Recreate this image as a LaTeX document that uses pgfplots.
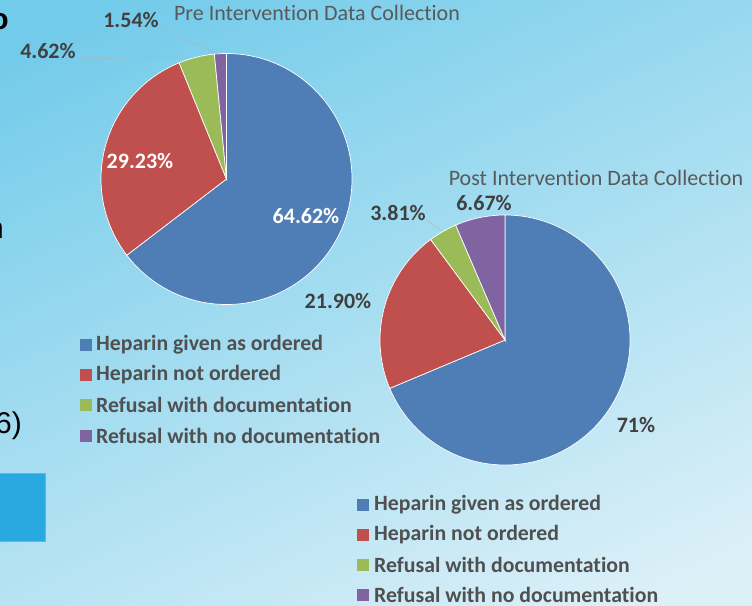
\documentclass[border=0pt]{standalone}
\usepackage{pgfplots}
\pgfplotsset{compat=1.18}
\usepackage{fontspec}
\setmainfont{Carlito}[Ligatures=NoCommon]
\newfontfamily\arialfont{Liberation Sans}
\definecolor{pblue}{HTML}{4F7DB5}
\definecolor{pred}{HTML}{C0504D}
\definecolor{pgreen}{HTML}{9BBB59}
\definecolor{ppurple}{HTML}{8064A2}
\definecolor{titlegray}{HTML}{595959}
\definecolor{labgray}{HTML}{404040}
\definecolor{legtext}{HTML}{505050}
\definecolor{bgtop}{HTML}{72CBEA}
\definecolor{bgbot}{HTML}{DCF0F8}
\definecolor{boxblue}{HTML}{2AA8E0}
\definecolor{boxedge}{HTML}{6CBF96}
\begin{document}
\begin{tikzpicture}
% ---- data: percentages ----
\def\preA{64.62}\def\preB{29.23}\def\preC{4.62}\def\preD{1.54}
\def\postA{71}\def\postB{21.90}\def\postC{3.81}\def\postD{6.67}
% ---- angles (clockwise from 12 o'clock, normalised by total) ----
\pgfmathsetmacro\preT{\preA+\preB+\preC+\preD}
\pgfmathsetmacro\preaA{90-\preA/\preT*360}
\pgfmathsetmacro\preaB{\preaA-\preB/\preT*360}
\pgfmathsetmacro\preaC{\preaB-\preC/\preT*360}
\pgfmathsetmacro\postT{\postA+\postB+\postC+\postD}
\pgfmathsetmacro\postaA{90-\postA/\postT*360}
\pgfmathsetmacro\postaB{\postaA-\postB/\postT*360}
\pgfmathsetmacro\postaC{\postaB-\postC/\postT*360}
\begin{axis}[
  at={(0,0)}, anchor=south west,
  width=752pt, height=605pt, scale only axis,
  xmin=0, xmax=752, ymin=0, ymax=605, y dir=reverse,
  hide axis, clip=true]
% background
\shade[top color=bgtop, bottom color=bgbot, shading angle=25]
  (axis cs:-60,-60) rectangle (axis cs:812,665);
% left-side slide fragments
\node[anchor=east, font=\arialfont\bfseries\fontsize{30}{30}\selectfont, text=black, inner sep=0pt] at (axis cs:9,22) {o};
\node[anchor=east, font=\arialfont\fontsize{30}{30}\selectfont, text=black, inner sep=0pt] at (axis cs:4,230) {n};
\node[anchor=east, font=\arialfont\fontsize{30}{30}\selectfont, text=black, inner sep=0pt] at (axis cs:22,426) {6)};
\fill[boxblue, draw=boxedge, line width=0.8pt] (axis cs:-5,473) rectangle (axis cs:45,541);
% ---- Pre pie ----
\fill[pblue, draw=white, line width=0.7pt] (axis cs:226.5,179) -- ++(90:125.5pt) arc[start angle=90, end angle=\preaA, radius=125.5pt] -- cycle;
\fill[pred, draw=white, line width=0.7pt] (axis cs:226.5,179) -- ++(\preaA:125.5pt) arc[start angle=\preaA, end angle=\preaB, radius=125.5pt] -- cycle;
\fill[pgreen, draw=white, line width=0.7pt] (axis cs:226.5,179) -- ++(\preaB:125.5pt) arc[start angle=\preaB, end angle=\preaC, radius=125.5pt] -- cycle;
\fill[ppurple, draw=white, line width=0.7pt] (axis cs:226.5,179) -- ++(\preaC:125.5pt) arc[start angle=\preaC, end angle=-270, radius=125.5pt] -- cycle;
\node[font=\fontsize{22}{22}\selectfont, text=titlegray] at (axis cs:317,13) {Pre Intervention Data Collection};
\draw[gray!60, line width=0.4pt] (axis cs:160,27) -- (axis cs:218,54);
\draw[gray!60, line width=0.4pt] (axis cs:77,59) -- (axis cs:181,57);
\node[font=\bfseries\fontsize{22}{22}\selectfont, text=labgray] at (axis cs:131,20) {1.54\%};
\node[font=\bfseries\fontsize{22}{22}\selectfont, text=labgray] at (axis cs:48,51) {4.62\%};
\node[font=\bfseries\fontsize{22}{22}\selectfont, text=white] at (axis cs:140,161) {29.23\%};
\node[font=\bfseries\fontsize{22}{22}\selectfont, text=white] at (axis cs:306,216) {64.62\%};
% legend 1
\fill[pblue]   (axis cs:80,339) rectangle (axis cs:92,351);
\fill[pred]    (axis cs:80,369) rectangle (axis cs:92,381);
\fill[pgreen]  (axis cs:80,399) rectangle (axis cs:92,411);
\fill[ppurple] (axis cs:80,430) rectangle (axis cs:92,442);
\node[anchor=west, inner sep=0pt, font=\bfseries\fontsize{21.8}{21.8}\selectfont, text=legtext] at (axis cs:96,345) {Heparin given as ordered};
\node[anchor=west, inner sep=0pt, font=\bfseries\fontsize{21.8}{21.8}\selectfont, text=legtext] at (axis cs:96,375) {Heparin not ordered};
\node[anchor=west, inner sep=0pt, font=\bfseries\fontsize{21.8}{21.8}\selectfont, text=legtext] at (axis cs:96,405) {Refusal with documentation};
\node[anchor=west, inner sep=0pt, font=\bfseries\fontsize{21.8}{21.8}\selectfont, text=legtext] at (axis cs:96,436) {Refusal with no documentation};
% ---- Post pie ----
\fill[pblue, draw=white, line width=0.7pt] (axis cs:505,340) -- ++(90:125pt) arc[start angle=90, end angle=\postaA, radius=125pt] -- cycle;
\fill[pred, draw=white, line width=0.7pt] (axis cs:505,340) -- ++(\postaA:125pt) arc[start angle=\postaA, end angle=\postaB, radius=125pt] -- cycle;
\fill[pgreen, draw=white, line width=0.7pt] (axis cs:505,340) -- ++(\postaB:125pt) arc[start angle=\postaB, end angle=\postaC, radius=125pt] -- cycle;
\fill[ppurple, draw=white, line width=0.7pt] (axis cs:505,340) -- ++(\postaC:125pt) arc[start angle=\postaC, end angle=-270, radius=125pt] -- cycle;
\node[font=\fontsize{22}{22}\selectfont, text=titlegray] at (axis cs:596,178) {Post Intervention Data Collection};
\draw[gray!60, line width=0.4pt] (axis cs:427,220) -- (axis cs:442,231);
\node[font=\bfseries\fontsize{22}{22}\selectfont, text=labgray] at (axis cs:398,213) {3.81\%};
\node[font=\bfseries\fontsize{22}{22}\selectfont, text=labgray] at (axis cs:484,203) {6.67\%};
\node[font=\bfseries\fontsize{22}{22}\selectfont, text=labgray] at (axis cs:338,301) {21.90\%};
\node[font=\bfseries\fontsize{22}{22}\selectfont, text=labgray] at (axis cs:636,425) {71\%};
% legend 2
\fill[pblue]   (axis cs:357,499) rectangle (axis cs:369,511);
\fill[pred]    (axis cs:357,529) rectangle (axis cs:369,541);
\fill[pgreen]  (axis cs:357,559) rectangle (axis cs:369,571);
\fill[ppurple] (axis cs:357,589) rectangle (axis cs:369,601);
\node[anchor=west, inner sep=0pt, font=\bfseries\fontsize{21.8}{21.8}\selectfont, text=legtext] at (axis cs:374,505) {Heparin given as ordered};
\node[anchor=west, inner sep=0pt, font=\bfseries\fontsize{21.8}{21.8}\selectfont, text=legtext] at (axis cs:374,535) {Heparin not ordered};
\node[anchor=west, inner sep=0pt, font=\bfseries\fontsize{21.8}{21.8}\selectfont, text=legtext] at (axis cs:374,565) {Refusal with documentation};
\node[anchor=west, inner sep=0pt, font=\bfseries\fontsize{21.8}{21.8}\selectfont, text=legtext] at (axis cs:374,595) {Refusal with no documentation};
\end{axis}
\pgfresetboundingbox
\path (0,0) rectangle (752pt,605pt);
\end{tikzpicture}
\end{document}
